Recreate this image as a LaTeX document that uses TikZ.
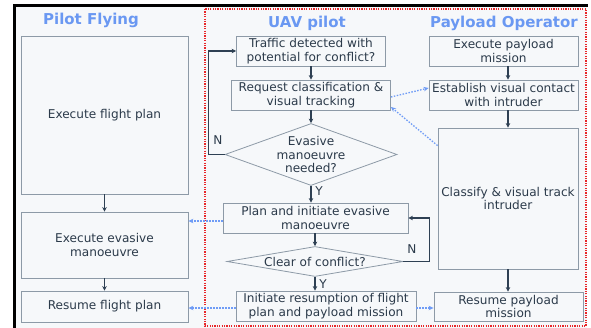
\documentclass[tikz,border=0pt]{standalone}
\usepackage{fontspec}
\setmainfont{DejaVu Sans}
\usetikzlibrary{arrows.meta,shapes.geometric}

\definecolor{paper}{HTML}{F6F8FA}
\definecolor{boxgray}{HTML}{8D9AA7}
\definecolor{ink}{HTML}{2B3A4A}
\definecolor{flowink}{HTML}{2E4053}
\definecolor{titleblue}{HTML}{6A98F2}
\definecolor{handblue}{HTML}{6F9CF6}
\definecolor{lanered}{HTML}{E8272A}

\begin{document}
\begin{tikzpicture}[x=1pt,y=-1pt]
\tikzset{
  stepbox/.style={rectangle,draw=boxgray,line width=0.8pt,fill=paper,text=ink,align=center,inner sep=1pt,font=\fontsize{12.1}{13.6}\selectfont},
  decision/.style={diamond,draw=boxgray,line width=0.8pt,fill=paper,text=ink,align=center,inner sep=0pt,font=\fontsize{12.1}{13.6}\selectfont},
  lanetitle/.style={anchor=base,text=titleblue,font=\fontsize{15}{17}\selectfont\bfseries},
  flow/.style={draw=flowink,line width=1.3pt,-{Stealth[length=4.5pt,width=4.5pt]}},
  handoff/.style={draw=handblue,line width=1.3pt,dash pattern=on 1.5pt off 1.5pt,-{Stealth[length=5pt,width=4.5pt]}},
  edgelabel/.style={text=ink,font=\fontsize{12.1}{13.6}\selectfont}
}
\useasboundingbox (0,0) rectangle (591,328);
% sheet and frame
\fill[paper] (16,7) rectangle (587,328);
\fill[black] (13,4) rectangle (588,7);
\fill[black] (13,4) rectangle (16,328);
\draw[lanered,line width=1.5pt,dash pattern=on 1.2pt off 1.2pt] (205,9) rectangle (586,326);

% lane titles
\node[lanetitle] (n_T1) at (91,25) {Pilot Flying};
\node[lanetitle] (n_T2) at (307,28) {UAV pilot};
\node[lanetitle] (n_T3) at (504,28) {Payload Operator};

% pilot flying
\node[stepbox,minimum width=167pt,minimum height=158pt] (n_PF1) at (104.5,115) {Execute flight plan};
\node[stepbox,minimum width=167pt,minimum height=66pt] (n_PF2) at (104.5,245) {Execute evasive\\manoeuvre};
\node[stepbox,minimum width=167pt,minimum height=31pt] (n_PF3) at (104.5,306.5) {Resume flight plan};

% uav pilot
\node[stepbox,minimum width=149pt,minimum height=30pt] (n_U1) at (311,51) {Traffic detected with\\potential for conflict?};
\node[stepbox,minimum width=159pt,minimum height=30pt] (n_U2) at (311,95) {Request classification \&\\visual tracking};
\node[decision,shape aspect=2.7,minimum width=172pt,minimum height=61pt] (n_U3) at (311,154.5) {Evasive\\manoeuvre\\needed?};
\node[stepbox,minimum width=185pt,minimum height=30pt] (n_U4) at (315.5,218) {Plan and initiate evasive\\manoeuvre};
\node[decision,shape aspect=6,minimum width=176pt,minimum height=30pt] (n_U5) at (315,261.5) {Clear of conflict?};
\node[stepbox,minimum width=180pt,minimum height=30pt] (n_U6) at (326,306) {Initiate resumption of flight\\plan and payload mission};

% payload operator
\node[stepbox,minimum width=149pt,minimum height=30pt] (n_P1) at (503.5,51) {Execute payload\\mission};
\node[stepbox,minimum width=149pt,minimum height=30pt] (n_P2) at (503.5,95) {Establish visual contact\\with intruder};
\node[stepbox,minimum width=140pt,minimum height=141pt] (n_P3) at (508,198.5) {Classify \& visual track\\intruder};
\node[stepbox,minimum width=149pt,minimum height=29pt] (n_P4) at (508.5,306.5) {Resume payload\\mission};

% flow inside the lanes
\draw[flow] (n_PF1) -- (n_PF2);
\draw[flow] (n_PF2) -- (n_PF3);
\draw[flow] (n_U1) -- (n_U2);
\draw[flow] (n_U2) -- (n_U3);
\draw[flow] (n_U3.south) -- (n_U3.south |- n_U4.north);
\draw[flow] (n_U4.south -| n_U5) -- (n_U5);
\draw[flow] (n_U5.south) -- (n_U5.south |- n_U6.north);
\draw[flow] (n_U3.west) -- ++(-16,0) |- (n_U1.west);
\draw[flow] (n_U5.east) -- ++(26,0) |- (n_U4.east);
\draw[flow] (n_P1.south -| n_P3) -- (n_P2.north -| n_P3);
\draw[flow] (n_P2.south -| n_P3) -- (n_P3);
\draw[flow] (n_P3.south) -- (n_P3.south |- n_P4.north);

\node[edgelabel] (n_N1) at (218,140) {N};
\node[edgelabel] (n_Y1) at (319,191) {Y};
\node[edgelabel] (n_N2) at (412,249) {N};
\node[edgelabel] (n_Y2) at (323,284) {Y};

% hand-offs between the lanes
\draw[handoff] ([yshift=-2pt]n_U2.east) -- ([yshift=7pt]n_P2.west);
\draw[handoff] ([yshift=-18pt]n_P3.north west) -- ([yshift=-12pt]n_U2.east);
\draw[handoff] ([yshift=-3pt]n_U4.west) -- ([yshift=-3pt]n_U4.west -| n_PF2.east);
\draw[handoff] ([yshift=-2pt]n_U6.west) -- ([yshift=-2pt]n_U6.west -| n_PF3.east);
\draw[handoff] ([yshift=-2pt]n_U6.east) -- ([yshift=-2pt]n_U6.east -| n_P4.west);
\end{tikzpicture}
\end{document}
